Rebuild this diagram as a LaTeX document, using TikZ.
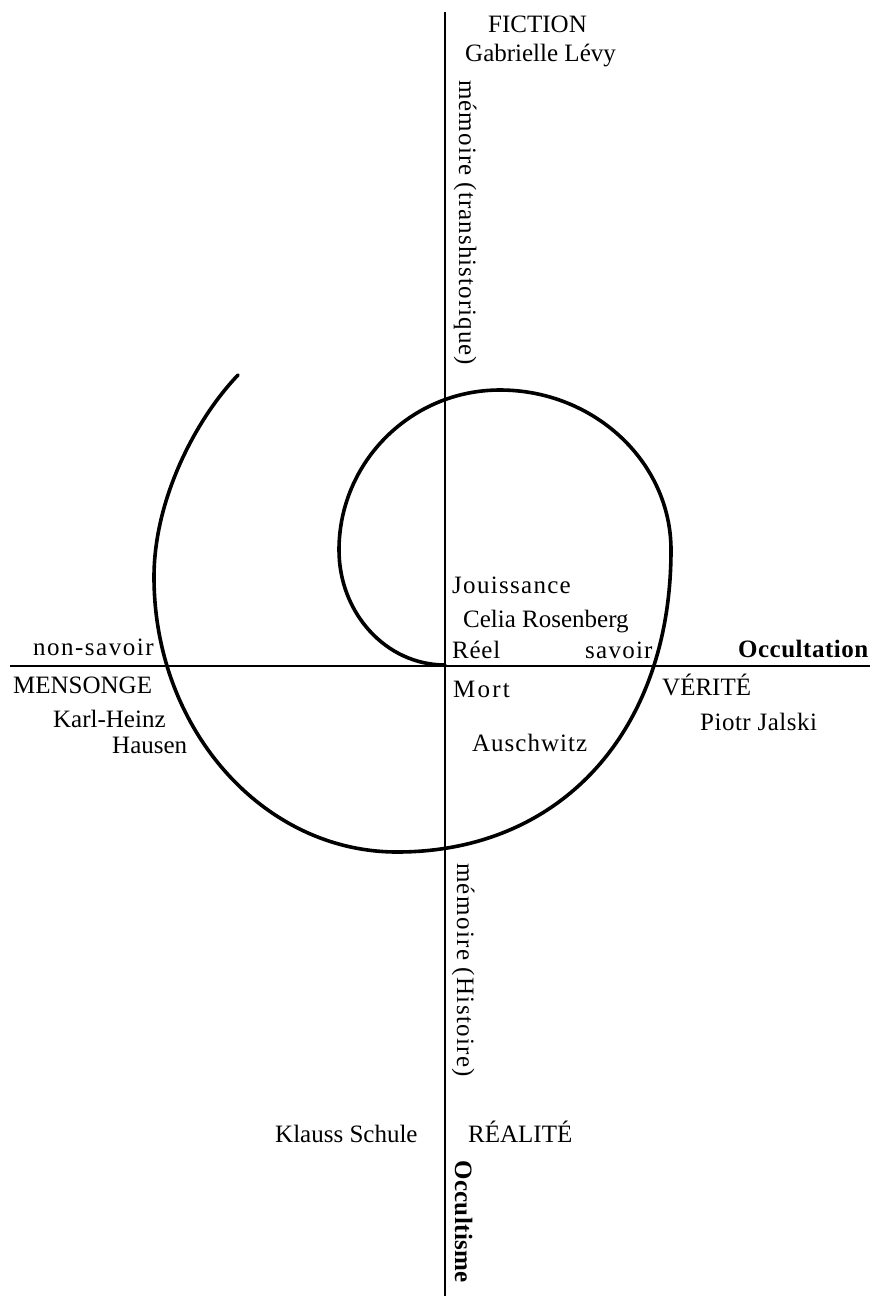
\documentclass[tikz,border=0pt]{standalone}
\usepackage{fontspec}
\setmainfont{Liberation Serif}
\begin{document}
\begin{tikzpicture}[x=1bp,y=-1bp,
  axis/.style={line width=2bp,black},
  spiral/.style={line width=3.6bp,black,line cap=round},
  lab/.style={inner sep=0pt,anchor=base west,font=\fontsize{25bp}{30bp}\selectfont},
  blab/.style={lab,font=\fontsize{25bp}{30bp}\selectfont\bfseries},
  sp/.style={font=\fontsize{25bp}{30bp}\selectfont\addfontfeature{LetterSpace=#1}},
  bsp/.style={font=\fontsize{25bp}{30bp}\selectfont\bfseries\addfontfeature{LetterSpace=#1}},
  vlab/.style={lab,rotate=-90},
  bvlab/.style={blab,rotate=-90}]
\useasboundingbox (0,0) rectangle (872,1296);
% axes
\coordinate (vtop) at (445,12);
\coordinate (vbot) at (445,1296);
\coordinate (hleft) at (10,666);
\coordinate (hright) at (870,666);
\draw[axis] (vtop) -- (vbot);
\draw[axis] (hleft) -- (hright);
% spiral
\coordinate (s0) at (445,665);
\coordinate (s1) at (339,550);
\coordinate (s2) at (500,390);
\coordinate (s3) at (671,550);
\coordinate (s4) at (397,852);
\coordinate (s5) at (154,577);
\coordinate (s6) at (238,375);
\draw[spiral] (s0) .. controls (386,665) and (339,613) .. (s1)
  .. controls (339,462) and (411,390) .. (s2)
  .. controls (594,390) and (671,462) .. (s3)
  .. controls (671,731) and (561,852) .. (s4)
  .. controls (263,852) and (154,729) .. (s5)
  .. controls (154,500) and (195,420) .. (s6);
% labels
\node[lab] (fiction) at (488,32) {FICTION};
\node[lab] (gabrielle) at (465,61) {Gabrielle Lévy};
\node[vlab,sp=4.3] (memtrans) at (459,80) {mémoire (transhistorique)};
\node[lab,sp=5.2] (jouis) at (452,593) {Jouissance};
\node[lab] (celia) at (463,627) {Celia Rosenberg};
\node[lab,sp=3] (reel) at (452,658) {Réel};
\node[lab,sp=5] (savoir) at (585,658) {savoir};
\node[blab,bsp=2] (occult) at (738,657) {Occultation};
\node[lab,sp=6] (nonsavoir) at (33,655) {non-savoir};
\node[lab] (mensonge) at (13,693) {MENSONGE};
\node[lab] (karl) at (53,727) {Karl-Heinz};
\node[lab] (hausen) at (112,753) {Hausen};
\node[lab,sp=9] (mort) at (453,697) {Mort};
\node[lab,sp=4] (ausch) at (472,751) {Auschwitz};
\node[lab] (verite) at (662,695) {VÉRITÉ};
\node[lab,sp=2] (piotr) at (700,730) {Piotr Jalski};
\node[vlab,sp=5.4] (memhist) at (457,863) {mémoire (Histoire)};
\node[lab] (klauss) at (275,1142) {Klauss Schule};
\node[lab] (realite) at (468,1142) {RÉALITÉ};
\node[bvlab,bsp=1.5] (occultisme) at (455,1160) {Occultisme};
\end{tikzpicture}
\end{document}
